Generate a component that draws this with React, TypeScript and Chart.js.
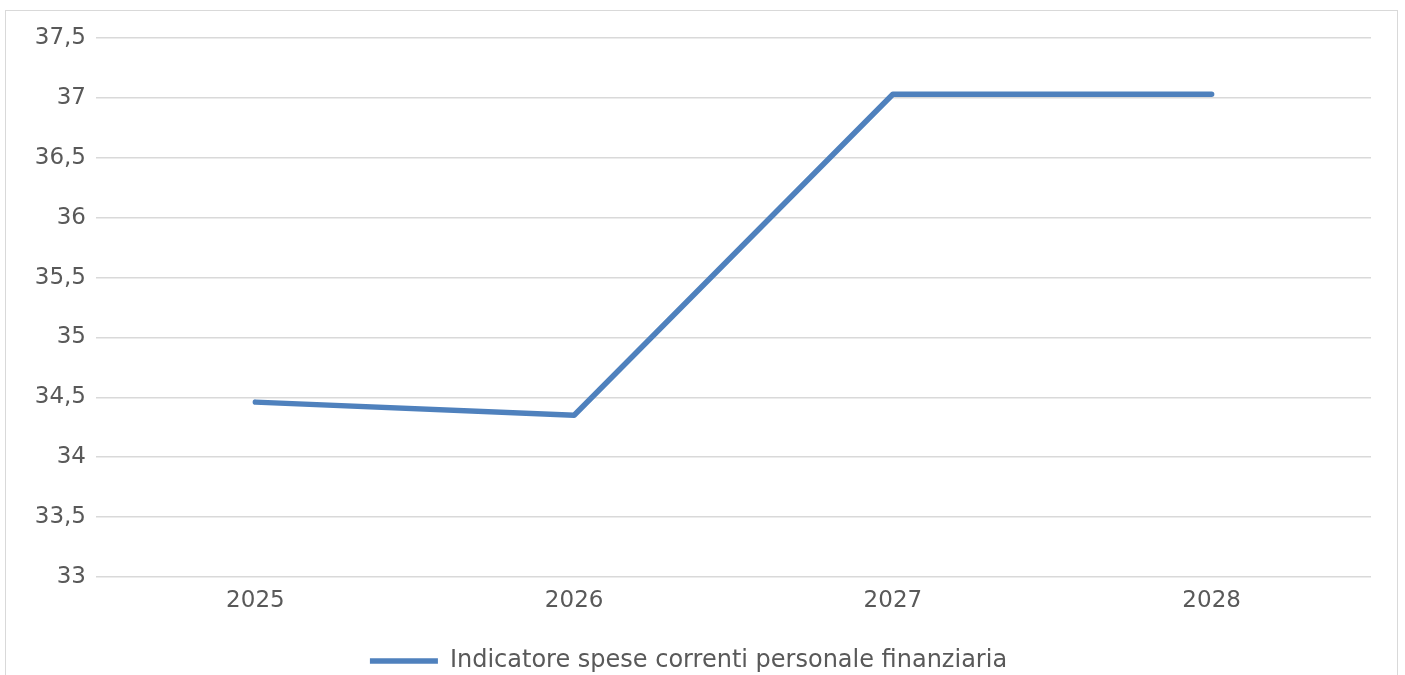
import React, { useEffect, useRef } from "react";
import { Chart, registerables } from "chart.js";

Chart.register(...registerables);

const categories = ["2025", "2026", "2027", "2028"];
const seriesLabel = "Indicatore spese correnti personale finanziaria";
const seriesValues = [34.46, 34.35, 37.03, 37.03];
const yMin = 33;
const yMax = 37.5;
const yStep = 0.5;

const FONT = "'DejaVu Sans', 'Liberation Sans', Arial, sans-serif";
const TEXT_COLOR = "#595959";
const GRID_COLOR = "#d9d9d9";
const LINE_COLOR = "#4F81BD";

export default function App() {
  const canvasRef = useRef<HTMLCanvasElement | null>(null);

  useEffect(() => {
    if (!canvasRef.current) return;
    const chart = new Chart(canvasRef.current, {
      type: "line",
      data: {
        labels: categories,
        datasets: [
          {
            label: seriesLabel,
            data: seriesValues,
            borderColor: LINE_COLOR,
            backgroundColor: LINE_COLOR,
            borderWidth: 5.5,
            borderCapStyle: "round",
            borderJoinStyle: "round",
            pointRadius: 0,
            pointHoverRadius: 0,
            tension: 0,
            fill: false,
          },
        ],
      },
      options: {
        animation: false,
        responsive: true,
        maintainAspectRatio: false,
        layout: { padding: { left: 0, right: 26, top: 27, bottom: 8 } },
        plugins: {
          tooltip: { enabled: false },
          legend: {
            position: "bottom",
            labels: {
              usePointStyle: true,
              pointStyle: "line",
              pointStyleWidth: 68,
              boxWidth: 68,
              padding: 10,
              color: TEXT_COLOR,
              font: { family: FONT, size: 24 },
            },
          },
        },
        scales: {
          x: {
            offset: true,
            grid: { display: false, drawTicks: false },
            border: { display: false },
            ticks: {
              color: TEXT_COLOR,
              padding: 10,
              maxRotation: 0,
              font: { family: FONT, size: 23 },
            },
            afterFit: (scale: any) => {
              scale.height = 62;
            },
          },
          y: {
            min: yMin,
            max: yMax,
            grid: { color: GRID_COLOR, lineWidth: 1.5, drawTicks: false },
            border: { display: false },
            ticks: {
              stepSize: yStep,
              color: TEXT_COLOR,
              padding: 10,
              font: { family: FONT, size: 23 },
              callback: (v: any) => String(Number(v)).replace(".", ","),
            },
            afterFit: (scale: any) => {
              scale.width = 90;
            },
          },
        },
      },
    });
    return () => chart.destroy();
  }, []);

  return (
    <div
      style={{
        position: "fixed",
        left: 5,
        top: 10,
        width: 1391,
        height: 700,
        borderTop: "1px solid #d9d9d9",
        borderLeft: "1px solid #d9d9d9",
        borderRight: "1px solid #d9d9d9",
        background: "#fff",
      }}
    >
      <div style={{ position: "relative", width: 1391, height: 680 }}>
        <canvas ref={canvasRef} />
      </div>
    </div>
  );
}
